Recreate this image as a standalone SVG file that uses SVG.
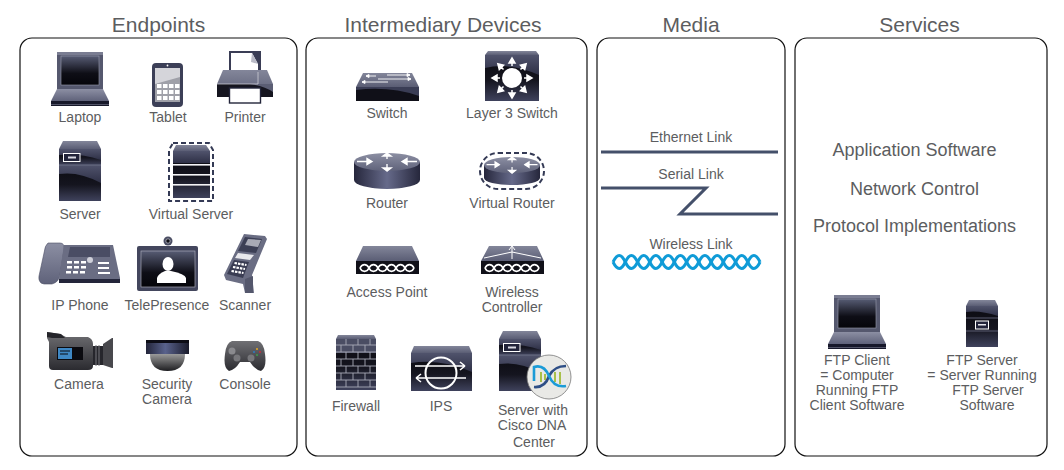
<svg xmlns="http://www.w3.org/2000/svg" xmlns:xlink="http://www.w3.org/1999/xlink" width="1064" height="470" viewBox="0 0 1064 470">
<style>
text{font-family:"Liberation Sans",Arial,sans-serif;fill:#5c5d60;text-anchor:middle}
.l{font-size:14px}
.h{font-size:21px}
.s{font-size:18px}
.w{fill:none;stroke:#fff;stroke-width:1.6}
.dash{fill:none;stroke:#343a55;stroke-width:2;stroke-dasharray:5 3}
.link{fill:none;stroke:#44506a;stroke-width:3}
.wl{fill:none;stroke:#0f9bd7;stroke-width:3}
</style>
<defs>
<linearGradient id="top" x1="0" y1="0" x2="0" y2="1"><stop offset="0" stop-color="#83869a"/><stop offset="1" stop-color="#5a5d74"/></linearGradient>
<linearGradient id="face" x1="0" y1="0" x2="0" y2="1"><stop offset="0" stop-color="#0a0a10"/><stop offset=".55" stop-color="#15151f"/><stop offset="1" stop-color="#3f425c"/></linearGradient>
<linearGradient id="sw" x1="0" y1="0" x2="0" y2="1"><stop offset="0" stop-color="#50536c"/><stop offset="1" stop-color="#2e3046"/></linearGradient>
<linearGradient id="cyl" x1="0" y1="0" x2="1" y2="0"><stop offset="0" stop-color="#26273c"/><stop offset=".5" stop-color="#666a8a"/><stop offset="1" stop-color="#26273c"/></linearGradient>
<linearGradient id="scr" x1="0" y1="0" x2="0" y2="1"><stop offset="0" stop-color="#575c74"/><stop offset=".6" stop-color="#0e0e16"/><stop offset="1" stop-color="#05050a"/></linearGradient>
<linearGradient id="metal" x1="0" y1="0" x2="0" y2="1"><stop offset="0" stop-color="#8c8fa3"/><stop offset="1" stop-color="#5f627a"/></linearGradient>
<linearGradient id="dome" x1="0" y1="0" x2="0" y2="1"><stop offset="0" stop-color="#9a9a9a"/><stop offset="1" stop-color="#1d1d20"/></linearGradient>
<linearGradient id="band" x1="0" y1="0" x2="1" y2="0"><stop offset="0" stop-color="#23253a"/><stop offset=".45" stop-color="#59628c"/><stop offset="1" stop-color="#1a1b2b"/></linearGradient>
<linearGradient id="grey" x1="0" y1="0" x2="0" y2="1"><stop offset="0" stop-color="#707074"/><stop offset="1" stop-color="#2b2b30"/></linearGradient>
<g id="laptop">
<rect x="6" y="0" width="46" height="37" fill="#55586e"/>
<rect x="6" y="0" width="46" height="3" fill="#7a7d92"/>
<rect x="10" y="4" width="38" height="29" fill="url(#scr)" stroke="#9a9dae" stroke-width=".6"/>
<path d="M6 37H52L58 49H0Z" fill="url(#metal)"/>
<path d="M0 49H58V54H0Z" fill="#17182a"/>
<path d="M0 52.500H58" stroke="#7a7d92" fill="none" stroke-width=".6"/>
</g>
<g id="server">
<path d="M4 0H38L42 8H0Z" fill="url(#top)"/>
<rect y="8" width="42" height="16" fill="url(#face)"/>
<path d="M0 8H42V19Q20 12 0 14Z" fill="url(#sw)"/>
<rect y="24" width="42" height="36" fill="url(#face)"/>
<path d="M0 24H42V42Q20 30 0 33Z" fill="url(#sw)"/>
<rect y="23.500" width="42" height="1" fill="#6d7085"/>
<rect x="4.500" y="12.500" width="16.500" height="8" fill="#22243a" stroke="#fff"/>
<rect x="9" y="15.500" width="8" height="2" fill="#d9dae2"/>
</g>
<g id="r-top">
<ellipse cx="33" cy="9" rx="33" ry="9" fill="url(#metal)"/>
<path d="M3 8.500H18M18 8.500l-5-3v6zM63 8.500H48M48 8.500l5-3v6zM33 1v5M33 0l-4 3h8zM33 11v6M33 18l-4-3h8z" stroke="#fff" stroke-width="1.400" fill="#fff"/>
</g>
<g id="links">
<path d="M-27 0c2.200-4.500 6.800-4.500 9 0s6.800 4.500 9 0 6.800-4.500 9 0 6.800 4.500 9 0 6.800-4.500 9 0 6.800 4.500 9 0" fill="none" stroke="#fff" stroke-width="1.700"/>
<path d="M-27 0c2.200 4.500 6.800 4.500 9 0s6.800-4.500 9 0 6.800 4.500 9 0 6.800-4.500 9 0 6.800 4.500 9 0 6.800-4.500 9 0" fill="none" stroke="#fff" stroke-width="1.700"/>
</g>
<path id="a3" d="M12 0H15V-3L20 0 15 3V0" fill="#fff" stroke="#fff" stroke-width="1.500"/>
</defs>

<rect width="1064" height="470" fill="#fff"/>

<g id="panels" fill="none" stroke="#111" stroke-width="1.200">
<rect x="20" y="38" width="277" height="418" rx="12"/>
<rect x="306" y="38" width="281" height="418" rx="12"/>
<rect x="597" y="38" width="188" height="418" rx="12"/>
<rect x="795" y="38" width="252" height="418" rx="12"/>
</g>
<g id="headings">
<text class="h" x="158.500" y="32">Endpoints</text>
<text class="h" x="443" y="32">Intermediary Devices</text>
<text class="h" x="691" y="32">Media</text>
<text class="h" x="919.500" y="32">Services</text>
</g>

<g id="laptop-node"><use href="#laptop" xlink:href="#laptop" x="51" y="52"/><text class="l" x="80" y="122">Laptop</text></g>
<g id="tablet">
<rect x="152" y="63" width="31" height="44" rx="4" fill="#3c3f57"/>
<rect x="155" y="68" width="25" height="34" fill="#9fa0a8"/>
<path d="M155 68H180V77L155 84Z" fill="#d5d5da"/>
<g fill="#fff"><rect x="157" y="84" width="4.500" height="4"/><rect x="163" y="84" width="4.500" height="4"/><rect x="169" y="84" width="4.500" height="4"/><rect x="175" y="84" width="4.500" height="4"/><rect x="157" y="90" width="4.500" height="4"/><rect x="163" y="90" width="4.500" height="4"/><rect x="169" y="90" width="4.500" height="4"/><rect x="175" y="90" width="4.500" height="4"/><rect x="157" y="96" width="4.500" height="4"/><rect x="163" y="96" width="4.500" height="4"/><rect x="169" y="96" width="4.500" height="4"/><rect x="175" y="96" width="4.500" height="4"/></g>
<circle cx="167.500" cy="65.500" r=".9" fill="#fff"/>
<text class="l" x="168" y="122">Tablet</text>
</g>
<g id="printer">
<rect x="229" y="51" width="32" height="21" fill="#3a3d55"/>
<path d="M231 53H252L258 64V72H231Z" fill="#fff"/>
<path d="M252 53 258 64 251 62Z" fill="#b9bac6"/>
<path d="M223 70H267L273 84V97H217V84Z" fill="url(#top)"/>
<path d="M217 84H273V97H217Z" fill="#15151f"/>
<path d="M250 84Q265 86 273 92V84Z" fill="#5b5e74"/>
<path d="M217 84H258V72" fill="none" stroke="#d8d9e0" stroke-width=".7"/>
<rect x="229.500" y="88" width="31" height="15" fill="#fff" stroke="#23253a" stroke-width="1.400"/>
<text class="l" x="245" y="122">Printer</text>
</g>
<g id="server-node"><use href="#server" xlink:href="#server" x="59" y="141"/><text class="l" x="80" y="219">Server</text></g>
<g id="virtual-server">
<path d="M173 143H209L213 150V201H169V150Z" class="dash"/>
<path d="M176 145H206L210 151H173Z" fill="url(#top)"/>
<rect x="173" y="151" width="37" height="47" fill="url(#face)"/>
<rect x="173" y="151" width="37" height="12" fill="url(#sw)"/>
<g fill="#f4f4f6"><rect x="173" y="164" width="37" height="1.600"/><rect x="173" y="174" width="37" height="1.600"/><rect x="173" y="184" width="37" height="1.600"/></g>
<text class="l" x="191" y="219">Virtual Server</text>
</g>
<g id="ip-phone">
<path d="M48 243H60Q65 243 64 250L60 275Q59 282 52 284H44Q38 283 39 276L44 253Q45 245 48 243Z" fill="url(#metal)" stroke="#4d5066" stroke-width=".6"/>
<path d="M64 245H113L120 278V283H59V279Z" fill="#6a6d83"/>
<rect x="59" y="279" width="61" height="4" fill="#23253a"/>
<path d="M70 247H110V257H68Z" fill="#4a4d64"/>
<g fill="#fff"><circle cx="90" cy="260" r="3" fill="#d0d1da"/><rect x="67" y="261" width="5" height="2.500"/><rect x="74" y="261" width="5" height="2.500"/><rect x="81" y="261" width="5" height="2.500"/><rect x="67" y="266" width="5" height="2.500"/><rect x="74" y="266" width="5" height="2.500"/><rect x="81" y="266" width="5" height="2.500"/><rect x="66" y="271" width="5" height="2.500"/><rect x="73" y="271" width="5" height="2.500"/><rect x="80" y="271" width="5" height="2.500"/><rect x="98" y="262" width="11" height="2"/><rect x="98" y="267" width="11" height="2"/><rect x="98" y="272" width="12" height="2"/></g>
<text class="l" x="80" y="310">IP Phone</text>
</g>
<g id="telepresence">
<circle cx="168" cy="241" r="4.500" fill="#4a4d63"/><circle cx="168" cy="241" r="2.200" fill="#0e0e16" stroke="#c8c9d2" stroke-width=".7"/>
<rect x="137" y="246" width="61" height="45" rx="2" fill="#43465d"/>
<rect x="141" y="251" width="54" height="36" fill="url(#scr)" stroke="#a5a7b5" stroke-width=".7"/>
<ellipse cx="168" cy="264" rx="5.500" ry="7" fill="#fff"/>
<path d="M157 283V278Q158 274 165 271H171Q185 274 186 278V283Z" fill="#fff"/>
<text class="l" x="167" y="310">TelePresence</text>
</g>
<g id="scanner">
<path d="M244 234 265 236 267 239 252 275 254 293H245L243 284 226 280 224 275Z" fill="#6a6d83"/>
<path d="M245 237 262 239 256 253 238 251Z" fill="#3c3f55"/><path d="M248 239 261 240 258 247 245 245Z" fill="#a9aab6"/>
<path d="M238 253 254 255 250 260 235 258Z" fill="#e8e8ec"/>
<path d="M234 260 249 262 243 278 227 274Z" fill="#3a3d53"/>
<path d="M234.500 263 246.500 265M233 267 245 269M231.500 271 243.500 273" stroke="#fff" stroke-width="2.200" stroke-dasharray="2.500 1" fill="none"/>
<path d="M245 279 253 276V293H245Z" fill="#54576c"/>
<text class="l" x="245" y="310">Scanner</text>
</g>
<g id="camera">
<path d="M47 332 60 334 66 337H88Q93 339 93 344V366Q93 370 88 370H53Q49 370 49 366V342L47 338Z" fill="url(#grey)"/>
<path d="M47 332 61 334 65 338H52L47 337Z" fill="#25252a"/>
<path d="M93 346H103V365H93Z" fill="#26262c"/>
<path d="M96 345V366M99 345V366" stroke="#77777d" stroke-width="1"/>
<path d="M103 344 112 338H113V368H112L103 365Z" fill="#48484d"/>
<rect x="57" y="347" width="26" height="13" fill="#0b0b10"/>
<rect x="58" y="348" width="14" height="11" fill="#3f88c4"/>
<path d="M60 351H70M60 354H68" stroke="#0b0b10" stroke-width="1"/>
<text class="l" x="79" y="389">Camera</text>
</g>
<g id="security-camera">
<path d="M150 354H185Q185 371 167.500 371T150 354Z" fill="url(#dome)"/>
<rect x="146" y="340" width="43" height="14" fill="url(#band)"/>
<rect x="146" y="340" width="43" height="3" fill="#0d0d16"/>
<text class="l" x="167" y="389">Security</text><text class="l" x="167" y="404">Camera</text>
</g>
<g id="console">
<path d="M232 341H258Q264 343 265 354 267 368 261 371 255 370 250 362H240Q235 370 229 371 223 368 225 354 226 343 232 341Z" fill="url(#grey)"/>
<circle cx="232" cy="351" r="3.500" fill="#8a8a8e"/><circle cx="237" cy="358" r="3.500" fill="#77777b"/><circle cx="251" cy="358" r="3.500" fill="#77777b"/>
<circle cx="257" cy="349" r="1" fill="#e8a820"/><circle cx="260" cy="352" r="1" fill="#c8283c"/><circle cx="254" cy="352" r="1" fill="#2a7cc7"/><circle cx="257" cy="355" r="1" fill="#3aa04a"/>
<text class="l" x="245" y="389">Console</text>
</g>

<g id="switch">
<path d="M363 73H412L419 87H356Z" fill="url(#top)"/>
<rect x="356" y="87" width="63" height="14" fill="#101018"/>
<path d="M356 87H419V96Q390 86 356 90Z" fill="#3a3d55"/>
<path d="M366 76H376M366 76l3-1.500v3zM387 75H410M410 75l-3-1.500v3zM362 82H388M362 82l3-1.500v3zM378 79H411M411 79l-3-1.500v3z" stroke="#fff" stroke-width=".9" fill="#fff"/>
<text class="l" x="387" y="118">Switch</text>
</g>
<g id="layer3-switch">
<path d="M488 51H536L539 55H485Z" fill="url(#top)"/>
<rect x="485" y="55" width="54" height="46" fill="url(#face)"/>
<path d="M485 55H539V75Q510 62 485 68Z" fill="url(#sw)"/>
<circle cx="512" cy="78" r="10" fill="#fff"/>
<g transform="translate(512 78)"><use href="#a3" xlink:href="#a3"/><use href="#a3" xlink:href="#a3" transform="rotate(45)"/><use href="#a3" xlink:href="#a3" transform="rotate(90)"/><use href="#a3" xlink:href="#a3" transform="rotate(135)"/><use href="#a3" xlink:href="#a3" transform="rotate(180)"/><use href="#a3" xlink:href="#a3" transform="rotate(225)"/><use href="#a3" xlink:href="#a3" transform="rotate(270)"/><use href="#a3" xlink:href="#a3" transform="rotate(315)"/></g>
<text class="l" x="512" y="118">Layer 3 Switch</text>
</g>
<g id="router">
<path d="M354 162V180A33 9 0 0 0 420 180V162Z" fill="url(#cyl)"/>
<use href="#r-top" xlink:href="#r-top" x="354" y="153"/>
<text class="l" x="387" y="208">Router</text>
</g>
<g id="virtual-router">
<rect x="480" y="153" width="64" height="36" rx="18" class="dash"/>
<path d="M484 165V178A28 7 0 0 0 540 178V165Z" fill="url(#cyl)"/>
<use href="#r-top" xlink:href="#r-top" transform="translate(484 157) scale(.85 .9)"/>
<text class="l" x="512" y="208">Virtual Router</text>
</g>
<g id="access-point">
<path d="M363 246H412L419 261H356Z" fill="url(#top)"/>
<rect x="356" y="261" width="63" height="13" fill="#101018"/>
<use href="#links" xlink:href="#links" x="387" y="268"/>
<text class="l" x="387" y="297">Access Point</text>
</g>
<g id="wireless-controller">
<path d="M489 246H537L544 261H481Z" fill="url(#top)"/>
<rect x="481" y="261" width="63" height="13" fill="#101018"/>
<use href="#links" xlink:href="#links" x="512" y="268"/>
<path d="M512 247V259M509 250 512 246 515 250M484 258 512 252 541 258" stroke="#fff" stroke-width="1" fill="none"/>
<text class="l" x="512" y="297">Wireless</text><text class="l" x="512" y="312">Controller</text>
</g>
<g id="firewall">
<path d="M338 335H374L376 339H336Z" fill="url(#top)"/>
<rect x="336" y="339" width="40" height="51" fill="url(#face)"/>
<rect x="336" y="339" width="40" height="14" fill="#4a4d63"/>
<path d="M336 345H376M336 352H376M336 359H376M336 366H376M336 373H376M336 380H376M336 387H376M346 339V345M358 339V345M370 339V345M341 345V352M353 345V352M365 345V352M346 352V359M358 352V359M370 352V359M341 359V366M353 359V366M365 359V366M346 366V373M358 366V373M370 366V373M341 373V380M353 373V380M365 373V380M346 380V387M358 380V387M370 380V387" stroke="#a8aab8" stroke-width=".9" fill="none"/>
<text class="l" x="356" y="411">Firewall</text>
</g>
<g id="ips">
<path d="M414 346H469L472 353H411Z" fill="url(#top)"/>
<rect x="411" y="353" width="61" height="38" fill="url(#face)"/>
<path d="M411 353H472V372Q440 358 411 363Z" fill="url(#sw)"/>
<circle cx="441" cy="373" r="15.500" class="w" style="stroke-width:2"/>
<path d="M415 366H465M465 366l-5-4M465 366l-5 4" class="w"/>
<path d="M466 378H416M416 378l5-4M416 378l5 4" class="w"/>
<text class="l" x="441" y="411">IPS</text>
</g>
<g id="dna-server">
<use href="#server" xlink:href="#server" x="499" y="331"/>
<circle cx="549" cy="377" r="22" fill="#e9e9e6" stroke="#777" stroke-width=".8"/>
<path d="M541 372V382M545 374V380M555 372V382M560 372V384" stroke="#a8c04a" stroke-width="2"/>
<path d="M534 387Q545 388 549 376 554 366 566 366" fill="none" stroke="#2f4f86" stroke-width="2.600"/>
<path d="M534 381V367Q544 364 549 376 554 388 566 386" fill="none" stroke="#1b9bd7" stroke-width="2.600"/>
<text class="l" x="533" y="415">Server with</text><text class="l" x="532" y="430">Cisco DNA</text><text class="l" x="534" y="447">Center</text>
</g>

<g id="connectors">
<path class="link" d="M601 152H778"/>
<path class="link" d="M601 188H706L680 214H778"/>
<g transform="translate(-2 0)">
<path class="wl" d="M615 262c2-4 4-6.500 6.200-6.500s4.200 2.500 6.100 6.500 3.900 6.500 6.100 6.500 4.200-2.500 6.200-6.500 3.900-6.500 6.100-6.500 4.200 2.500 6.100 6.500 3.900 6.500 6.100 6.500 4.200-2.500 6.200-6.500 3.900-6.500 6.100-6.500 4.200 2.500 6.100 6.500 3.900 6.500 6.100 6.500 4.200-2.500 6.200-6.500 3.900-6.500 6.100-6.500 4.200 2.500 6.100 6.500 3.900 6.500 6.100 6.500 4.200-2.500 6.200-6.500 3.900-6.500 6.100-6.500 4.200 2.500 6.100 6.500 3.900 6.500 6.100 6.500 4.200-2.500 6.200-6.500 3.900-6.500 6.100-6.500 4.200 2.500 6.100 6.500 3.900 6.500 6.100 6.500 4.200-2.500 6.200-6.500"/>
<path class="wl" d="M615 262c2 4 4 6.500 6.200 6.500s4.200-2.500 6.100-6.500 3.900-6.500 6.100-6.500 4.200 2.500 6.200 6.500 3.900 6.500 6.100 6.500 4.200-2.500 6.100-6.500 3.900-6.500 6.100-6.500 4.200 2.500 6.200 6.500 3.900 6.500 6.100 6.500 4.200-2.500 6.100-6.500 3.900-6.500 6.100-6.500 4.200 2.500 6.200 6.500 3.900 6.500 6.100 6.500 4.200-2.500 6.100-6.500 3.900-6.500 6.100-6.500 4.200 2.500 6.200 6.500 3.900 6.500 6.100 6.500 4.200-2.500 6.100-6.500 3.900-6.500 6.100-6.500 4.200 2.500 6.200 6.500 3.900 6.500 6.100 6.500 4.200-2.500 6.100-6.500 3.900-6.500 6.100-6.500 4.200 2.500 6.200 6.500"/>
</g>
</g>
<g id="media-labels">
<text class="l" x="691" y="142">Ethernet Link</text>
<text class="l" x="691" y="179">Serial Link</text>
<text class="l" x="691" y="249">Wireless Link</text>
</g>

<g id="services">
<text class="s" x="914.500" y="156">Application Software</text>
<text class="s" x="914.500" y="195">Network Control</text>
<text class="s" x="914.500" y="232">Protocol Implementations</text>
</g>
<g id="ftp-client">
<use href="#laptop" xlink:href="#laptop" x="828" y="295"/>
<text class="l" x="857" y="365">FTP Client</text><text class="l" x="857" y="380">= Computer</text><text class="l" x="857" y="395">Running FTP</text><text class="l" x="857" y="410">Client Software</text>
</g>
<g id="ftp-server">
<path d="M969 300H995L998 306H966Z" fill="url(#top)"/>
<rect x="966" y="306" width="32" height="41" fill="url(#face)"/>
<path d="M966 306H998V316Q980 310 966 312Z" fill="url(#sw)"/>
<path d="M966 318H998M966 331H998" stroke="#6d7085" stroke-width=".8"/>
<rect x="975.500" y="321" width="13" height="8" fill="#22243a" stroke="#fff"/>
<rect x="978" y="324" width="8" height="1.500" fill="#e6e6ec"/>
<text class="l" x="982" y="365">FTP Server</text><text class="l" x="982" y="380">= Server Running</text><text class="l" x="988" y="395">FTP Server</text><text class="l" x="987" y="410">Software</text>
</g>
</svg>
